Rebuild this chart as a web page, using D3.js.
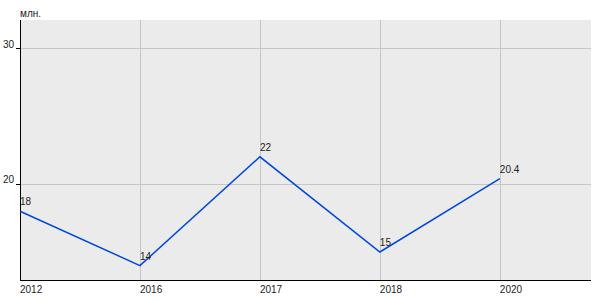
<!DOCTYPE html>
<html>
<head>
<meta charset="utf-8">
<script src="https://cdn.jsdelivr.net/npm/d3@7"></script>
<style>
  body { margin: 0; background: #fff; }
  text { font-family: "Liberation Sans", Arial, sans-serif; font-size: 10px; fill: #222; }
</style>
</head>
<body>
<div id="chart"></div>
<script>
// data
const years = ["2012", "2016", "2017", "2018", "2020"];
const values = [18, 14, 22, 15, 20.4];
const valueLabels = ["18", "14", "22", "15", "20.4"];
const yTicks = [20, 30];
const unitLabel = "млн.";

const W = 600, H = 300;
const plotL = 20, plotR = 591, plotT = 20, plotB = 280;

const svg = d3.select("#chart").append("svg")
  .attr("width", W).attr("height", H);

// x: categories placed evenly, extra room on the right
const x = d3.scaleLinear().domain([0, 4.76]).range([plotL, plotR]);
const y = d3.scaleLinear().domain([12.94, 32.06]).range([plotB, plotT]);

svg.append("rect")
  .attr("x", plotL).attr("y", plotT)
  .attr("width", plotR - plotL).attr("height", plotB - plotT)
  .attr("fill", "#ebebeb");

// horizontal grid
svg.append("g").selectAll("line").data(yTicks).join("line")
  .attr("x1", plotL).attr("x2", plotR)
  .attr("y1", d => Math.round(y(d)) + 0.5).attr("y2", d => Math.round(y(d)) + 0.5)
  .attr("stroke", "#c6c6c6");

// vertical grid
svg.append("g").selectAll("line").data(years).join("line")
  .attr("x1", (d, i) => Math.round(x(i)) + 0.5).attr("x2", (d, i) => Math.round(x(i)) + 0.5)
  .attr("y1", plotT).attr("y2", plotB)
  .attr("stroke", "#c6c6c6");

// axes
svg.append("line").attr("x1", plotL + 0.5).attr("x2", plotL + 0.5)
  .attr("y1", plotT).attr("y2", plotB + 0.5).attr("stroke", "#000");
svg.append("line").attr("x1", plotL).attr("x2", plotR)
  .attr("y1", plotB + 0.5).attr("y2", plotB + 0.5).attr("stroke", "#000");

// y ticks
const yt = svg.append("g").selectAll("g").data(yTicks).join("g");
yt.append("line")
  .attr("x1", plotL - 4).attr("x2", plotL)
  .attr("y1", d => Math.round(y(d)) + 0.5).attr("y2", d => Math.round(y(d)) + 0.5)
  .attr("stroke", "#000");
yt.append("text")
  .attr("x", plotL - 6).attr("y", d => y(d) - 0.5)
  .attr("text-anchor", "end")
  .text(d => d);

svg.append("text").attr("x", plotL).attr("y", 17).text(unitLabel);

// x labels
svg.append("g").selectAll("text").data(years).join("text")
  .attr("x", (d, i) => x(i)).attr("y", 293)
  .text(d => d);

// line
const line = d3.line().x((d, i) => x(i)).y(d => y(d));
svg.append("path").datum(values)
  .attr("d", line)
  .attr("fill", "none")
  .attr("stroke", "#0047e0")
  .attr("stroke-width", 1.5);

// value labels
svg.append("g").selectAll("text").data(values).join("text")
  .attr("x", (d, i) => x(i)).attr("y", d => y(d) - 6)
  .text((d, i) => valueLabels[i]);
</script>
</body>
</html>
